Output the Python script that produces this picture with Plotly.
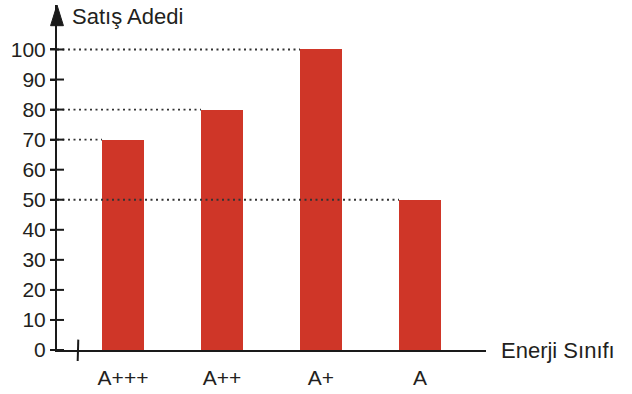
import plotly.graph_objects as go

categories = ["A+++", "A++", "A+", "A"]
sales = [70, 80, 100, 50]
y_ticks = [0, 10, 20, 30, 40, 50, 60, 70, 80, 90, 100]

BAR_W = 0.424
X_MIN, X_MAX = -0.667, 3.667
Y_MAX = 114.8
FONT = "Liberation Sans, Arial, sans-serif"
TXT = "#231f20"

xs = list(range(len(categories)))
fig = go.Figure()

# dotted guide lines from the y axis to each bar's top-left corner
for i, v in zip(xs, sales):
    fig.add_trace(go.Scatter(x=[X_MIN, i - BAR_W / 2], y=[v, v], mode="lines",
                             line=dict(color="#333333", width=1.8, dash="2px,3.5px"),
                             hoverinfo="skip", showlegend=False))

fig.add_trace(go.Bar(x=xs, y=sales, width=BAR_W, marker=dict(color="#cf3628", line=dict(width=0)),
                     showlegend=False))

# inside half of the tick marks (crossing the axis)
fig.add_trace(go.Scatter(x=[X_MIN] * len(y_ticks), y=y_ticks, mode="markers",
                         marker=dict(symbol="line-ew", size=10, line=dict(color="#1a1a1a", width=2)),
                         cliponaxis=False, hoverinfo="skip", showlegend=False))

fig.update_layout(
    width=632, height=394,
    margin=dict(l=57, r=146, t=5, b=40),
    paper_bgcolor="white", plot_bgcolor="white",
    font=dict(family=FONT, size=21, color=TXT),
    bargap=0,
    xaxis=dict(range=[X_MIN, X_MAX], tickmode="array", tickvals=xs, ticktext=categories,
               showgrid=False, zeroline=False, showline=True, linecolor="#1a1a1a", linewidth=2,
               ticks="outside", ticklen=8, tickcolor="rgba(0,0,0,0)",
               tickfont=dict(family=FONT, size=21, color=TXT)),
    yaxis=dict(range=[0, Y_MAX], tickmode="array", tickvals=y_ticks,
               showgrid=False, zeroline=False, showline=True, linecolor="#1a1a1a", linewidth=2,
               ticks="outside", ticklen=5, tickwidth=2, tickcolor="#1a1a1a",
               tickfont=dict(family=FONT, size=21, color=TXT)),
)

# arrowhead on the y axis
fig.add_shape(type="path", xref="paper", yref="paper",
              path="M -0.015 0.94 L 0 1.0 L 0.015 0.94 Z",
              fillcolor="#1a1a1a", line=dict(color="#1a1a1a", width=1))

# axis break mark near the origin
fig.add_shape(type="line", xref="x", yref="paper",
              x0=-0.458, x1=-0.452, y0=-0.032, y1=0.03,
              line=dict(color="#1a1a1a", width=2))

fig.add_annotation(text="Satış Adedi", xref="paper", yref="paper", x=0.03, y=0.995,
                   xanchor="left", yanchor="middle", showarrow=False, yshift=-10,
                   font=dict(family=FONT, size=22, color=TXT))
fig.add_annotation(text="Enerji Sınıfı", xref="paper", yref="paper", x=1.0, y=0,
                   xanchor="left", yanchor="middle", showarrow=False, xshift=13,
                   font=dict(family=FONT, size=22, color=TXT))

fig.write_html("out.html")
